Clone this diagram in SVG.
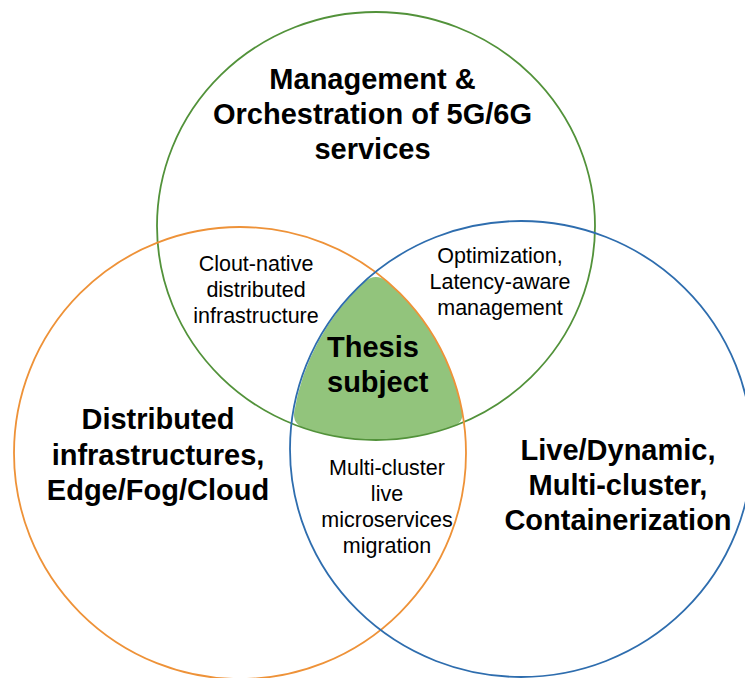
<svg xmlns="http://www.w3.org/2000/svg" width="745" height="678" viewBox="0 0 745 678">
<style>
.big{font-family:"Liberation Sans",Arial,sans-serif;font-weight:bold;font-size:29px;fill:#000;text-anchor:middle}
.small{font-family:"Liberation Sans",Arial,sans-serif;font-size:21.5px;fill:#000;text-anchor:middle}
.ring{fill:none;stroke-width:1.8}
</style>
<rect width="745" height="678" fill="#fff"/>
<g id="center">
<path d="M364.4,282 Q375.6,272 387.8,282 A226,226 0 0 1 462.2,412 Q464,422.5 452,426.7 A219,214 0 0 1 304,428.1 Q292.5,423.8 294.2,412 A230,229 0 0 1 364.4,282 Z" fill="#92C47C"/>
</g>
<g id="circles">
<ellipse id="c-mgmt" class="ring" cx="376" cy="226" rx="219" ry="214" stroke="#52923A"/>
<circle id="c-infra" class="ring" cx="240" cy="453" r="226" stroke="#EE9238"/>
<ellipse id="c-live" class="ring" cx="521" cy="449" rx="231" ry="228" stroke="#2E6DAE"/>
</g>
<g id="label-mgmt">
<text class="big" x="372.5" y="89">Management &amp;</text>
<text class="big" x="372.5" y="124">Orchestration of 5G/6G</text>
<text class="big" x="372.5" y="159">services</text>
</g>
<g id="label-infra">
<text class="big" x="158" y="429">Distributed</text>
<text class="big" x="158" y="464.5">infrastructures,</text>
<text class="big" x="158" y="500">Edge/Fog/Cloud</text>
</g>
<g id="label-live">
<text class="big" x="618" y="460">Live/Dynamic,</text>
<text class="big" x="618" y="495">Multi-cluster,</text>
<text class="big" x="618" y="530">Containerization</text>
</g>
<g id="label-thesis">
<text class="big" x="327" y="357" style="text-anchor:start">Thesis</text>
<text class="big" x="327" y="392" style="text-anchor:start">subject</text>
</g>
<g id="label-cloud">
<text class="small" x="256" y="271">Clout-native</text>
<text class="small" x="256" y="297">distributed</text>
<text class="small" x="256" y="323">infrastructure</text>
</g>
<g id="label-opt">
<text class="small" x="500" y="263">Optimization,</text>
<text class="small" x="500" y="289">Latency-aware</text>
<text class="small" x="500" y="315">management</text>
</g>
<g id="label-multi">
<text class="small" x="387" y="475">Multi-cluster</text>
<text class="small" x="387" y="501">live</text>
<text class="small" x="387" y="527">microservices</text>
<text class="small" x="387" y="553">migration</text>
</g>
</svg>
